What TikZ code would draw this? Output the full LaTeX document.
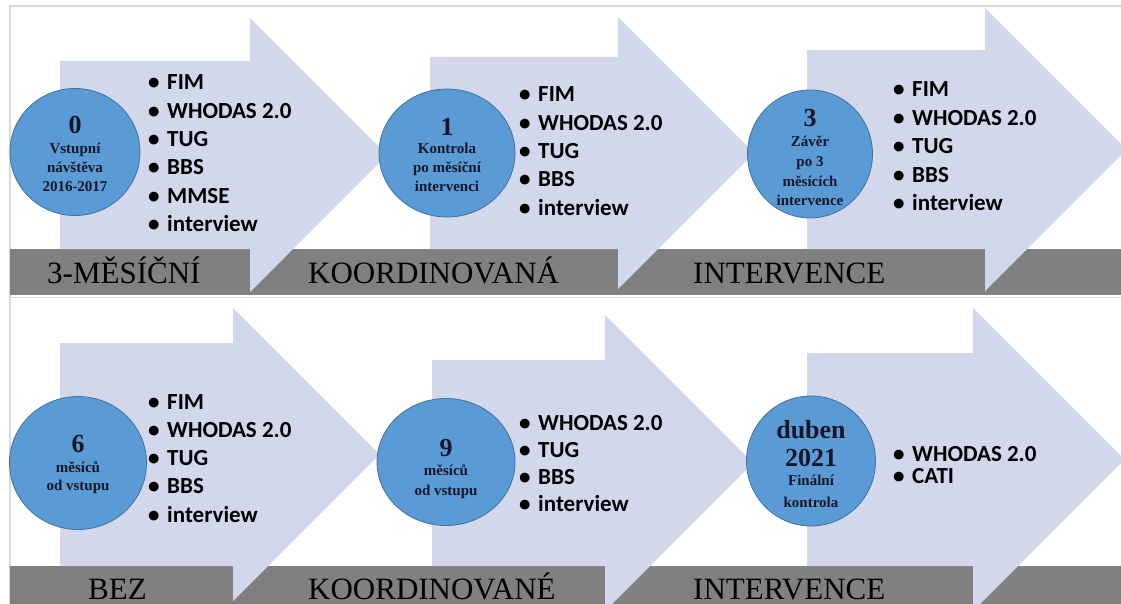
\documentclass[tikz,border=0pt]{standalone}
\usepackage{fontspec}
\setmainfont{Liberation Serif}
\newfontfamily\listfont{Carlito}
\usetikzlibrary{shapes.geometric}

\definecolor{arrowfill}{RGB}{211,215,236}
\definecolor{bargray}{RGB}{128,128,128}
\definecolor{dotfill}{RGB}{91,155,213}
\definecolor{dotline}{RGB}{65,113,156}
\definecolor{dottext}{RGB}{22,22,40}
\definecolor{framegray}{RGB}{217,217,217}

\tikzset{
  timebar/.style={fill=bargray, draw=none},
  bartext/.style={anchor=base west, inner sep=0pt, text=black,
                  font=\fontsize{31}{31}\selectfont},
  milestone/.style={ellipse, fill=dotfill, draw=dotline, line width=0.8pt, inner sep=0pt},
  bignum/.style={anchor=base, inner sep=0pt, text=dottext,
                 font=\bfseries\fontsize{26}{26}\selectfont},
  smalltxt/.style={anchor=base, inner sep=0pt, text=dottext,
                   font=\bfseries\fontsize{15}{15}\selectfont},
  listitem/.style={anchor=base west, inner sep=0pt, text=black,
                   font=\listfont\bfseries\fontsize{23}{23}\selectfont},
}

% block arrow: left x, head x, centre y, body half-height, head half-height
\newcommand\blockarrow[5]{%
  \fill[arrowfill] (#1,#3-#4) -- (#2,#3-#4) -- (#2,#3-#5) -- (#2+#5,#3)
    -- (#2,#3+#5) -- (#2,#3+#4) -- (#1,#3+#4) -- cycle;}

% bullet list: name, x, first baseline, line step, items
\newcommand\bulletlist[5]{%
  \foreach \t [count=\i] in {#5}{%
    \pgfmathsetmacro\yy{#3+(\i-1)*#4}%
    \node[listitem] (#1-\i) at (#2,\yy) {\makebox[19pt][l]{•}\t};}}

\begin{document}
\begin{tikzpicture}[x=1pt,y=-1pt]
\useasboundingbox (0,0) rectangle (1121,604);

% frame
\draw[framegray, line width=1.5pt] (10,604) -- (10,6) -- (1121,6);
\draw[framegray, line width=1pt] (10,297) -- (1121,297);

% time bars
\fill[timebar] (10,249) rectangle (1121,295);
\fill[timebar] (10,566) rectangle (1121,604);

% stage arrows, upper row
\blockarrow{60}{250}{155}{94}{137}
\blockarrow{430}{618}{153}{96}{136}
\blockarrow{807}{985}{149.5}{99.5}{141.5}
% stage arrows, lower row
\blockarrow{60}{233}{454.5}{111.5}{146.5}
\blockarrow{432}{605}{463}{103}{148}
\blockarrow{807}{973}{459.5}{106.5}{151.5}

% bar captions
\node[bartext] (b1) at (47,283) {3-MĚSÍČNÍ};
\node[bartext] (b2) at (308,283) {KOORDINOVANÁ};
\node[bartext] (b3) at (693,283) {INTERVENCE};
\node[bartext] (b4) at (88,599) {BEZ};
\node[bartext] (b5) at (308,599) {KOORDINOVANÉ};
\node[bartext] (b6) at (693,599) {INTERVENCE};

% milestones
\node[milestone, minimum width=130pt, minimum height=127pt] (m0) at (75,152) {};
\node[bignum]   (m0a) at (75,134) {0};
\node[smalltxt] (m0b) at (75,154) {Vstupní};
\node[smalltxt] (m0c) at (75,173) {návštěva};
\node[smalltxt] (m0d) at (75,192) {2016-2017};

\node[milestone, minimum width=136pt, minimum height=128pt] (m1) at (447,153) {};
\node[bignum]   (m1a) at (447,136) {1};
\node[smalltxt] (m1b) at (447,154) {Kontrola};
\node[smalltxt] (m1c) at (447,173) {po měsíční};
\node[smalltxt] (m1d) at (447,192) {intervenci};

\node[milestone, minimum width=125pt, minimum height=128pt] (m3) at (810,154) {};
\node[bignum]   (m3a) at (810,127) {3};
\node[smalltxt] (m3b) at (810,147) {Závěr};
\node[smalltxt] (m3c) at (810,167) {po 3};
\node[smalltxt] (m3d) at (810,187) {měsících};
\node[smalltxt] (m3e) at (810,205) {intervence};

\node[milestone, minimum width=137pt, minimum height=133pt] (m6) at (78,463) {};
\node[bignum]   (m6a) at (78,452) {6};
\node[smalltxt] (m6b) at (78,472) {měsíců};
\node[smalltxt] (m6c) at (78,490) {od vstupu};

\node[milestone, minimum width=138pt, minimum height=127pt] (m9) at (446,462) {};
\node[bignum]   (m9a) at (446,456) {9};
\node[smalltxt] (m9b) at (446,475) {měsíců};
\node[smalltxt] (m9c) at (446,495) {od vstupu};

\node[milestone, minimum width=129pt, minimum height=130pt] (m21) at (811,461) {};
\node[bignum]   (m21a) at (811,438) {duben};
\node[bignum]   (m21b) at (811,466) {2021};
\node[smalltxt] (m21c) at (811,485) {Finální};
\node[smalltxt] (m21d) at (811,507) {kontrola};

% measurement lists
\bulletlist{l0}{148}{90}{28.3}{FIM,WHODAS 2.0,TUG,BBS,MMSE,interview}
\bulletlist{l1}{519}{102}{28.3}{FIM,WHODAS 2.0,TUG,BBS,interview}
\bulletlist{l3}{893}{97}{28.5}{FIM,WHODAS 2.0,TUG,BBS,interview}
\bulletlist{l6}{148}{409}{28.3}{FIM,WHODAS 2.0,TUG,BBS,interview}
\bulletlist{l9}{519}{430}{27.3}{WHODAS 2.0,TUG,BBS,interview}
\bulletlist{l21}{893}{461}{22.5}{WHODAS 2.0,CATI}
\end{tikzpicture}
\end{document}
